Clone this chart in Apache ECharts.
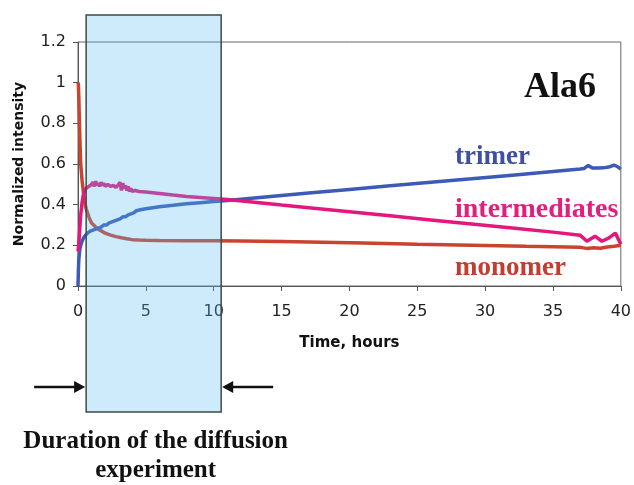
<!DOCTYPE html>
<html>
<head>
<meta charset="utf-8">
<script src="https://cdn.jsdelivr.net/npm/echarts@6/dist/echarts.min.js"></script>
<style>html,body{margin:0;padding:0;background:#fff}#c{width:634px;height:485px}</style>
</head>
<body>
<div id="c"></div>
<script>
// ---- data ----
const xTicks = [0, 5, 10, 15, 20, 25, 30, 35, 40];
const yTicks = [0, 0.2, 0.4, 0.6, 0.8, 1, 1.2];

const trimerT = [0,0.03,0.06,0.1,0.15,0.2,0.3,0.4,0.5,0.7,0.9,1.1,1.3,1.5,1.7,1.9,2.1,2.3,2.5,2.7,2.9,3.1,3.3,3.5,3.7,3.9,4.1,4.3,4.6,5,6,7,8,9,10,11,13,15,17,20,23,26,29,32,35,37,37.3,37.6,37.9,38.3,38.7,39.1,39.5,39.8,40];
const trimer  = [0,0.08,0.13,0.16,0.185,0.2,0.22,0.235,0.245,0.26,0.27,0.275,0.28,0.285,0.29,0.3,0.3,0.31,0.315,0.32,0.325,0.33,0.34,0.34,0.35,0.355,0.36,0.37,0.375,0.38,0.39,0.397,0.405,0.41,0.415,0.42,0.433,0.445,0.457,0.475,0.493,0.51,0.527,0.545,0.563,0.575,0.578,0.593,0.58,0.58,0.581,0.585,0.595,0.585,0.575];

const interT = [0,0.05,0.1,0.15,0.2,0.3,0.4,0.5,0.6,0.8,1.0,1.1,1.2,1.3,1.4,1.5,1.6,1.7,1.8,1.9,2.0,2.2,2.4,2.6,2.8,3.0,3.1,3.2,3.3,3.4,3.5,3.6,3.7,3.8,3.9,4.0,4.2,4.5,5,6,7,8,9,10,11,13,15,17,20,23,26,29,32,35,37,37.5,38.1,38.6,39.1,39.6,40];
const inter  = [0.17,0.2,0.25,0.3,0.35,0.41,0.45,0.47,0.48,0.49,0.5,0.51,0.49,0.515,0.495,0.505,0.49,0.51,0.495,0.505,0.49,0.5,0.49,0.495,0.485,0.5,0.51,0.47,0.505,0.48,0.495,0.47,0.49,0.465,0.48,0.465,0.47,0.465,0.462,0.455,0.447,0.44,0.435,0.43,0.425,0.412,0.398,0.385,0.365,0.345,0.325,0.305,0.285,0.265,0.25,0.22,0.245,0.22,0.235,0.26,0.205];

const monoT = [0,0.03,0.06,0.1,0.15,0.2,0.3,0.4,0.5,0.6,0.8,1.0,1.3,1.6,2.0,2.4,2.8,3.2,3.6,4.0,4.5,5,6,8,10,12,15,18,21,25,29,33,36,37,37.5,38,38.5,39,39.5,40];
const mono  = [1.0,0.99,0.93,0.82,0.7,0.6,0.52,0.46,0.41,0.38,0.34,0.31,0.29,0.275,0.26,0.25,0.243,0.237,0.232,0.228,0.226,0.225,0.224,0.223,0.222,0.221,0.219,0.215,0.211,0.205,0.2,0.195,0.192,0.19,0.185,0.188,0.186,0.192,0.195,0.2];

const diffusionWindow = [0.6, 10.55]; // hours
const seriesNames = ['trimer', 'intermediates', 'monomer'];

// ---- chart ----
const zip = (t, v) => t.map((x, i) => [x, v[i]]);
const chart = echarts.init(document.getElementById('c'), null, {renderer: 'canvas'});
const C = {trimer: '#3c5ab6', inter: '#e3177c', mono: '#c9432f'};
const SANS = 'DejaVu Sans';
const SERIF = 'Liberation Serif';

chart.setOption({
  animation: false,
  grid: {left: 78, right: 10, top: 42, bottom: 199, show: true, borderColor: '#666', borderWidth: 1},
  xAxis: {
    type: 'value', min: xTicks[0], max: xTicks[xTicks.length - 1], interval: 5,
    name: 'Time, hours', nameLocation: 'middle', nameGap: 50,
    nameTextStyle: {fontFamily: SANS, fontWeight: 'bold', fontSize: 15, color: '#111'},
    axisLine: {lineStyle: {color: '#555', width: 1}},
    axisTick: {show: true, length: 5, lineStyle: {color: '#555'}},
    axisLabel: {fontFamily: SANS, fontSize: 16, color: '#222', margin: 18},
    splitLine: {show: false}
  },
  yAxis: {
    type: 'value', min: yTicks[0], max: yTicks[yTicks.length - 1], interval: 0.2,
    name: 'Normalized intensity', nameLocation: 'middle', nameGap: 52,
    nameTextStyle: {fontFamily: SANS, fontWeight: 'bold', fontSize: 14, color: '#111'},
    axisLine: {show: true, lineStyle: {color: '#555', width: 1}},
    axisTick: {show: true, length: 5, lineStyle: {color: '#555'}},
    axisLabel: {fontFamily: SANS, fontSize: 16, color: '#222', margin: 12},
    splitLine: {show: false}
  },
  series: [
    {name: seriesNames[0], type: 'line', data: zip(trimerT, trimer), showSymbol: false, lineStyle: {color: C.trimer, width: 3.5}, z: 3},
    {name: seriesNames[1], type: 'line', data: zip(interT, inter), showSymbol: false, lineStyle: {color: C.inter, width: 3.5}, z: 4},
    {name: seriesNames[2], type: 'line', data: zip(monoT, mono), showSymbol: false, lineStyle: {color: C.mono, width: 3.5}, z: 2}
  ]
});

const bx0 = chart.convertToPixel({xAxisIndex: 0}, diffusionWindow[0]);
const bx1 = chart.convertToPixel({xAxisIndex: 0}, diffusionWindow[1]);
const boxTop = 15, boxBottom = 412, arrowY = 387;

function arrow(xFrom, xTip) {
  const dir = xTip > xFrom ? 1 : -1;
  return [
    {type: 'line', z: 110, shape: {x1: xFrom, y1: arrowY, x2: xTip - dir * 8, y2: arrowY}, style: {stroke: '#111', lineWidth: 2.5}},
    {type: 'polygon', z: 110, shape: {points: [[xTip, arrowY], [xTip - dir * 11, arrowY - 6], [xTip - dir * 11, arrowY + 6]]}, style: {fill: '#111'}}
  ];
}

chart.setOption({
  graphic: [
    {type: 'rect', z: 100, shape: {x: bx0, y: boxTop, width: bx1 - bx0, height: boxBottom - boxTop},
     style: {fill: 'rgba(88,188,238,0.3)', stroke: '#3c4a48', lineWidth: 1.5}},
    ...arrow(bx0 - 52, bx0 - 1),
    ...arrow(bx1 + 52, bx1 + 1),
    {type: 'text', z: 110, x: (bx0 + bx1) / 2 + 2, y: 442, style: {text: 'Duration of the diffusion', font: 'bold 25px "' + SERIF + '"', fill: '#111', textAlign: 'center', textVerticalAlign: 'middle'}},
    {type: 'text', z: 110, x: (bx0 + bx1) / 2 + 2, y: 471, style: {text: 'experiment', font: 'bold 25px "' + SERIF + '"', fill: '#111', textAlign: 'center', textVerticalAlign: 'middle'}},
    {type: 'text', z: 110, x: 524, y: 88, style: {text: 'Ala6', font: 'bold 36px "' + SERIF + '"', fill: '#111', textAlign: 'left', textVerticalAlign: 'middle'}},
    {type: 'text', z: 110, x: 455, y: 157, style: {text: seriesNames[0], font: 'bold 27px "' + SERIF + '"', fill: '#3f4fa6', textAlign: 'left', textVerticalAlign: 'middle'}},
    {type: 'text', z: 110, x: 455, y: 210, style: {text: seriesNames[1], font: 'bold 28px "' + SERIF + '"', fill: '#e0207c', textAlign: 'left', textVerticalAlign: 'middle'}},
    {type: 'text', z: 110, x: 455, y: 268, style: {text: seriesNames[2], font: 'bold 27px "' + SERIF + '"', fill: '#c23e2e', textAlign: 'left', textVerticalAlign: 'middle'}}
  ]
});
</script>
</body>
</html>
